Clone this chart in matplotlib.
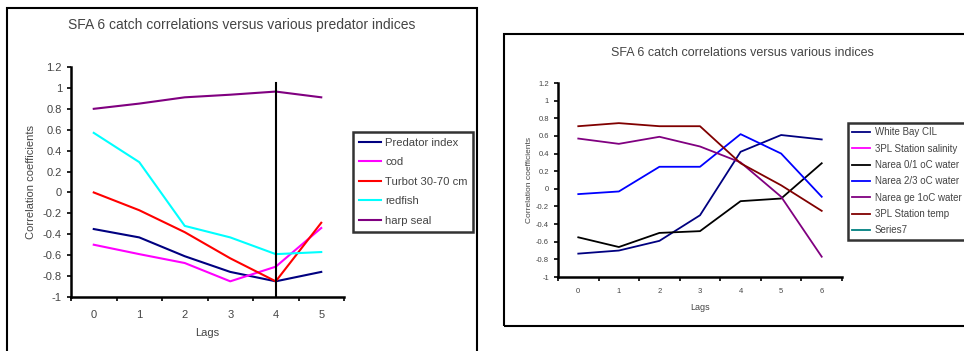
"""Two Excel-style panels: SFA 6 catch correlations vs lagged indices."""

import matplotlib

matplotlib.use("Agg")
import matplotlib.pyplot as plt
import numpy as np
from matplotlib.patches import Rectangle

plt.rcParams["font.family"] = ["Liberation Sans", "DejaVu Sans"]

# Left panel: predator indices, lags 0..5
LEFT_LAGS = [0, 1, 2, 3, 4, 5]
predator_index = [-0.35, -0.43, -0.61, -0.76, -0.85, -0.76]
cod = [-0.50, -0.59, -0.675, -0.85, -0.71, -0.34]
turbot = [0.0, -0.17, -0.38, -0.63, -0.85, -0.29]
redfish = [0.57, 0.29, -0.32, -0.43, -0.59, -0.57]
harp_seal = [0.80, 0.85, 0.91, 0.935, 0.965, 0.91]
LEFT_LABELS = ["Predator index", "cod", "Turbot 30-70 cm", "redfish", "harp seal"]
LEFT_COLORS = ["#000080", "#FF00FF", "#FF0000", "#00FFFF", "#800080"]
VLINE_LAG = 4
VLINE_TOP = 1.05

# Right panel: environmental indices, lags 0..6
RIGHT_LAGS = [0, 1, 2, 3, 4, 5, 6]
white_bay_cil = [-0.735, -0.70, -0.59, -0.30, 0.42, 0.61, 0.56]
station_salinity = [np.nan] * 7
narea_01 = [-0.55, -0.66, -0.50, -0.48, -0.14, -0.11, 0.29]
narea_23 = [-0.06, -0.03, 0.25, 0.25, 0.62, 0.40, -0.09]
narea_ge1 = [0.57, 0.51, 0.59, 0.48, 0.30, -0.09, -0.77]
station_temp = [0.71, 0.745, 0.71, 0.71, 0.29, 0.04, -0.25]
series7 = [np.nan] * 7
RIGHT_LABELS = [
    "White Bay CIL",
    "3PL Station salinity",
    "Narea 0/1 oC water",
    "Narea 2/3 oC water",
    "Narea ge 1oC water",
    "3PL Station temp",
    "Series7",
]
RIGHT_COLORS = ["#000080", "#FF00FF", "#000000", "#0000FF", "#800080", "#800000", "#008080"]

Y_TICKS = [-1, -0.8, -0.6, -0.4, -0.2, 0, 0.2, 0.4, 0.6, 0.8, 1, 1.2]
TEXT = "#444444"

W, H = 964, 351
fig = plt.figure(figsize=(W / 100, H / 100), dpi=100)


def fx(px):
    return px / W


def fy(py):
    return 1 - py / H


def style_axes(ax, n, tick_size, xpad):
    ax.set_xlim(-0.5, n - 0.5)
    ax.set_ylim(-1, 1.2)
    for side in ("top", "right"):
        ax.spines[side].set_visible(False)
    for side in ("left", "bottom"):
        ax.spines[side].set_linewidth(1.8)
    ax.set_yticks(Y_TICKS)
    ax.set_yticklabels([f"{v:g}" for v in Y_TICKS])
    ax.set_xticks(np.arange(n + 1) - 0.5)
    ax.set_xticklabels([])
    ax.set_xticks(np.arange(n), minor=True)
    ax.set_xticklabels([str(i) for i in range(n)], minor=True)
    ax.tick_params(axis="both", which="major", direction="out", length=3,
                   width=1.2, labelsize=tick_size, labelcolor=TEXT)
    ax.tick_params(axis="x", which="minor", length=0, pad=xpad,
                   labelsize=tick_size, labelcolor=TEXT)


# Chart frames (screenshot borders)
fig.add_artist(Rectangle((fx(7), fy(370)), fx(470), fy(8) - fy(370),
                         transform=fig.transFigure, fill=False,
                         edgecolor="black", linewidth=1.5))
fig.add_artist(Rectangle((fx(504), fy(326)), fx(500), fy(34) - fy(326),
                         transform=fig.transFigure, fill=False,
                         edgecolor="black", linewidth=1.5))

# Left panel
ax1 = fig.add_axes([fx(71), fy(297), fx(273), fy(67) - fy(297)])
style_axes(ax1, len(LEFT_LAGS), 8, 9)
left_series = [predator_index, cod, turbot, redfish, harp_seal]
handles = []
for vals, lab, col in zip(left_series, LEFT_LABELS, LEFT_COLORS):
    (h,) = ax1.plot(LEFT_LAGS, vals, color=col, linewidth=1.5, label=lab)
    handles.append(h)
ax1.axvline(VLINE_LAG, ymin=0, ymax=(VLINE_TOP + 1) / 2.2,
            color="black", linewidth=1.5)
ax1.set_xlabel("Lags", fontsize=8, color=TEXT, labelpad=6)
ax1.set_ylabel("Correlation coefficients", fontsize=8, color=TEXT, labelpad=5)
fig.text(fx(242), fy(25), "SFA 6 catch correlations versus various predator indices",
         ha="center", va="center", fontsize=10, color=TEXT)
leg1 = fig.legend(handles=handles, loc="upper left",
                  bbox_to_anchor=(fx(353), fy(132)), fontsize=8.1,
                  frameon=True, fancybox=False, edgecolor="black",
                  handlelength=2.0, handletextpad=0.35, labelspacing=0.85,
                  borderpad=0.5, borderaxespad=0, labelcolor=TEXT)
leg1.get_frame().set_linewidth(1.8)

# Right panel
ax2 = fig.add_axes([fx(558), fy(277), fx(284), fy(83) - fy(277)])
style_axes(ax2, len(RIGHT_LAGS), 5.5, 8)
right_series = [white_bay_cil, station_salinity, narea_01, narea_23,
                narea_ge1, station_temp, series7]
handles2 = []
for vals, lab, col in zip(right_series, RIGHT_LABELS, RIGHT_COLORS):
    (h,) = ax2.plot(RIGHT_LAGS, vals, color=col, linewidth=1.3, label=lab)
    handles2.append(h)
ax2.set_xlabel("Lags", fontsize=6.5, color=TEXT, labelpad=6)
ax2.set_ylabel("Correlation coefficients", fontsize=6, color=TEXT, labelpad=2)
fig.text(fx(742), fy(53), "SFA 6 catch correlations versus various indices",
         ha="center", va="center", fontsize=9, color=TEXT)
leg2 = fig.legend(handles=handles2, loc="upper left",
                  bbox_to_anchor=(fx(848), fy(123)), fontsize=7,
                  frameon=True, fancybox=False, edgecolor="black",
                  handlelength=1.8, handletextpad=0.5, labelspacing=0.65,
                  borderpad=0.45, borderaxespad=0, labelcolor=TEXT)
leg2.get_frame().set_linewidth(1.8)

fig.savefig("out.png", dpi=100)
